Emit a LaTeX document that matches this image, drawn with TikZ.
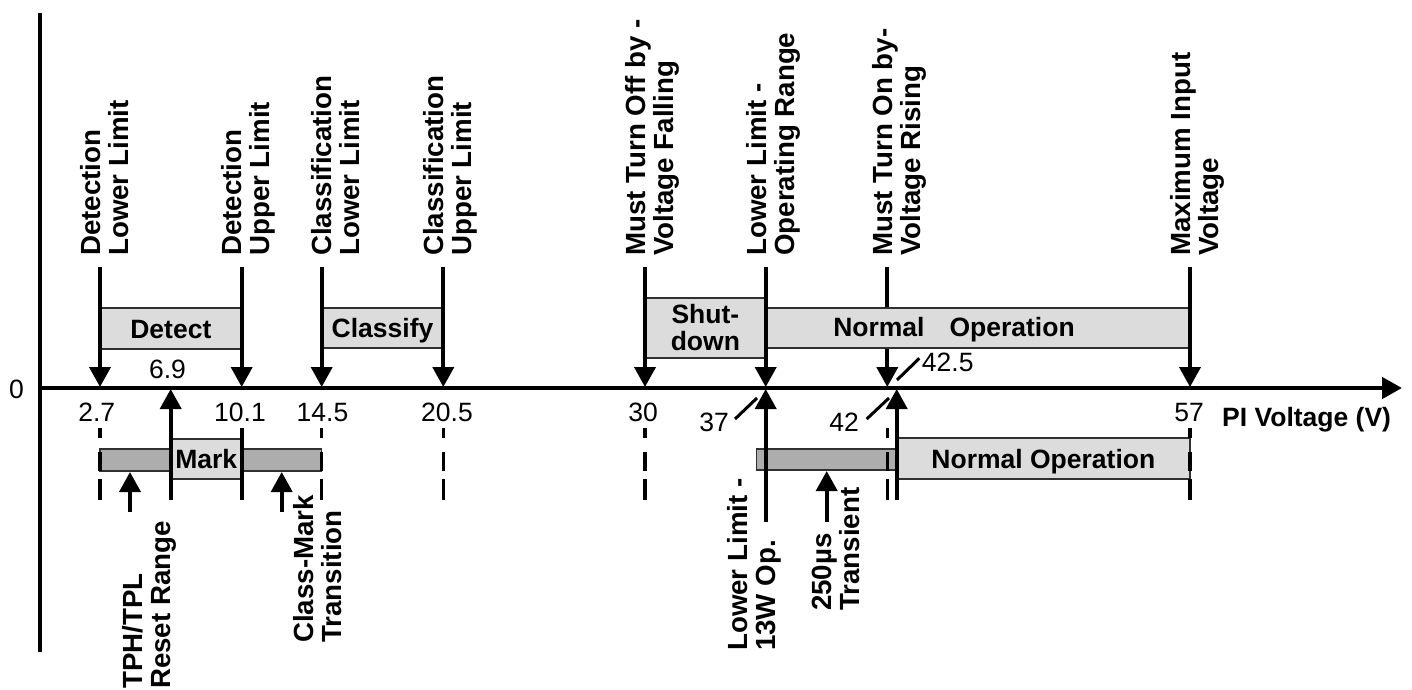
\documentclass[tikz,border=0pt]{standalone}
\usepackage{fontspec}
\setmainfont{Liberation Sans}
\usetikzlibrary{arrows.meta}
\definecolor{boxfill}{HTML}{DCDCDC}
\definecolor{barfill}{HTML}{ADADAD}
\definecolor{boxedge}{HTML}{303030}
\begin{document}
\begin{tikzpicture}[x=1pt,y=-1pt,
  axisln/.style={line width=4.5pt},
  tick/.style={line width=3.8pt,-{Triangle[length=20pt,width=21pt]}},
  solidln/.style={line width=3.8pt},
  dashln/.style={line width=3.2pt,dash pattern=on 10pt off 14pt on 19pt off 8pt on 21pt},
  slashln/.style={line width=3pt},
  stagebox/.style={draw=boxedge,line width=1.5pt,fill=boxfill,inner sep=0,align=center,
    font=\bfseries\fontsize{26.5}{27}\selectfont},
  oneline/.style={text height=19pt,text depth=0pt},
  darkbar/.style={draw=boxedge,line width=1.2pt,fill=barfill,inner sep=0},
  lbl/.style={rotate=90,anchor=west,align=left,inner sep=0,
    font=\bfseries\fontsize{27.7}{28}\selectfont,text height=20pt,text depth=34pt},
  num/.style={inner sep=0,anchor=base,font=\fontsize{26.5}{27}\selectfont},
  boldtxt/.style={inner sep=0,font=\bfseries\fontsize{26.5}{27}\selectfont}]
\useasboundingbox (0,0) rectangle (1412,689);

% axes
\coordinate (vtop) at (40,13);
\coordinate (vbot) at (40,652);
\coordinate (origin) at (40,388);
\coordinate (xend) at (1402,388);
\draw[axisln] (vtop) -- (vbot);
\draw[axisln,-{Triangle[length=20pt,width=21pt]}] (origin) -- (xend);

% down arrow hidden behind the normal operation box
\coordinate (tMustOn) at (887.3,267);
\coordinate (aMustOn) at (887.3,387);
\draw[tick] (tMustOn) -- (aMustOn);

% top boxes
\node[stagebox,oneline,minimum width=141.7pt,minimum height=41pt] (detect) at (170.85,328.5) {Detect};
\node[stagebox,oneline,minimum width=121.6pt,minimum height=40pt] (classify) at (382.5,328) {Classify};
\node[stagebox,minimum width=120.7pt,minimum height=60pt] (shut) at (705.35,328) {Shut-\\down};
\node[stagebox,minimum width=424.3pt,minimum height=40pt] (normtop) at (977.85,328) {};
\node[boldtxt,text height=19pt,text depth=0pt] (normtoptxt) at (954,326.5) {Normal\hspace{25pt}Operation};

% top down arrows
\coordinate (tDetLo) at (100,267);     \coordinate (aDetLo) at (100,387);
\coordinate (tDetUp) at (241.7,267);   \coordinate (aDetUp) at (241.7,387);
\coordinate (tClsLo) at (321.7,267);   \coordinate (aClsLo) at (321.7,387);
\coordinate (tClsUp) at (443.3,267);   \coordinate (aClsUp) at (443.3,387);
\coordinate (tMustOff) at (645,267);   \coordinate (aMustOff) at (645,387);
\coordinate (tLowLim) at (765.7,267);  \coordinate (aLowLim) at (765.7,387);
\coordinate (tMax) at (1190,267);      \coordinate (aMax) at (1190,387);
\draw[tick] (tDetLo) -- (aDetLo);
\draw[tick] (tDetUp) -- (aDetUp);
\draw[tick] (tClsLo) -- (aClsLo);
\draw[tick] (tClsUp) -- (aClsUp);
\draw[tick] (tMustOff) -- (aMustOff);
\draw[tick] (tLowLim) -- (aLowLim);
\draw[tick] (tMax) -- (aMax);

% bottom bars and boxes
\node[darkbar,minimum width=221.7pt,minimum height=22pt] (markbar) at (210.85,460) {};
\node[stagebox,oneline,minimum width=71pt,minimum height=40pt] (mark) at (206.2,459) {Mark};
\node[darkbar,minimum width=140pt,minimum height=21pt] (transbar) at (826.7,459.5) {};
\node[stagebox,text height=19pt,text depth=0pt,minimum width=293.3pt,minimum height=41pt] (normbot) at (1043.35,458.5) {Normal Operation};

% bottom up arrows and lines
\coordinate (bSix) at (170.7,500);    \coordinate (uSix) at (170.7,389);
\coordinate (bLow13) at (765.7,522);  \coordinate (uLow13) at (765.7,389);
\coordinate (bFortyTwo) at (896.7,500); \coordinate (uFortyTwo) at (896.7,389);
\draw[tick] (bSix) -- (uSix);
\draw[tick] (bLow13) -- (uLow13);
\draw[tick] (bFortyTwo) -- (uFortyTwo);
\coordinate (bTPH) at (130,512);      \coordinate (uTPH) at (130,472);
\coordinate (bCM) at (281.7,512);     \coordinate (uCM) at (281.7,472);
\coordinate (bTr) at (826.7,522);     \coordinate (uTr) at (826.7,471);
\draw[tick] (bTPH) -- (uTPH);
\draw[tick] (bCM) -- (uCM);
\draw[tick] (bTr) -- (uTr);
\coordinate (sTen) at (241.7,428);    \coordinate (eTen) at (241.7,500);
\draw[solidln] (sTen) -- (eTen);

% dashed drop lines
\coordinate (d1s) at (100,428);    \coordinate (d1e) at (100,500);
\coordinate (d2s) at (321.7,428);  \coordinate (d2e) at (321.7,500);
\coordinate (d3s) at (443.3,428);  \coordinate (d3e) at (443.3,500);
\coordinate (d4s) at (645,428);    \coordinate (d4e) at (645,500);
\coordinate (d5s) at (887.3,428);  \coordinate (d5e) at (887.3,500);
\coordinate (d6s) at (1190,428);   \coordinate (d6e) at (1190,500);
\draw[dashln] (d1s) -- (d1e);
\draw[dashln] (d2s) -- (d2e);
\draw[dashln] (d3s) -- (d3e);
\draw[dashln] (d4s) -- (d4e);
\draw[dashln] (d5s) -- (d5e);
\draw[dashln] (d6s) -- (d6e);

% slashes
\coordinate (s37a) at (735,419);   \coordinate (s37b) at (757,398);
\coordinate (s42a) at (866.7,419); \coordinate (s42b) at (889,398);
\coordinate (s425a) at (897,380);  \coordinate (s425b) at (919.3,358.3);
\draw[slashln] (s37a) -- (s37b);
\draw[slashln] (s42a) -- (s42b);
\draw[slashln] (s425a) -- (s425b);

% numbers
\node[num] (n0) at (16.5,398) {0};
\node[num] (n27) at (96.7,421.5) {2.7};
\node[num] (n69) at (167.5,378) {6.9};
\node[num] (n101) at (240,421.5) {10.1};
\node[num] (n145) at (322.5,421.5) {14.5};
\node[num] (n205) at (447,421.5) {20.5};
\node[num] (n30) at (643,421.5) {30};
\node[num] (n37) at (714,431.5) {37};
\node[num] (n42) at (844,431.5) {42};
\node[num,anchor=base west] (n425) at (921.7,371.5) {42.5};
\node[num] (n57) at (1189,421.5) {57};
\node[boldtxt,anchor=base west] (xlabel) at (1222,426) {PI Voltage (V)};

% top labels
\node[lbl] (lDetLo) at (135,256) {Detection\\Lower Limit};
\node[lbl] (lDetUp) at (276.7,256) {Detection\\Upper Limit};
\node[lbl] (lClsLo) at (366.7,256) {Classification\\Lower Limit};
\node[lbl] (lClsUp) at (478.3,256) {Classification\\Upper Limit};
\node[lbl] (lMustOff) at (680,256) {Must Turn Off by -\\Voltage Falling};
\node[lbl] (lLowLim) at (801.2,256) {Lower Limit -\\Operating Range};
\node[lbl] (lMustOn) at (927.3,256) {Must Turn On by-\\Voltage Rising};
\node[lbl] (lMax) at (1225,256) {Maximum Input\\Voltage};

% bottom labels
\node[lbl] (lTPH) at (177,689) {TPH/TPL\\Reset Range};
\node[lbl] (lCM) at (348,643) {Class-Mark\\Transition};
\node[lbl] (lLow13) at (782,651) {Lower Limit -\\13W Op.};
\node[lbl] (lTr) at (866,611) {250µs\\Transient};
\end{tikzpicture}
\end{document}
